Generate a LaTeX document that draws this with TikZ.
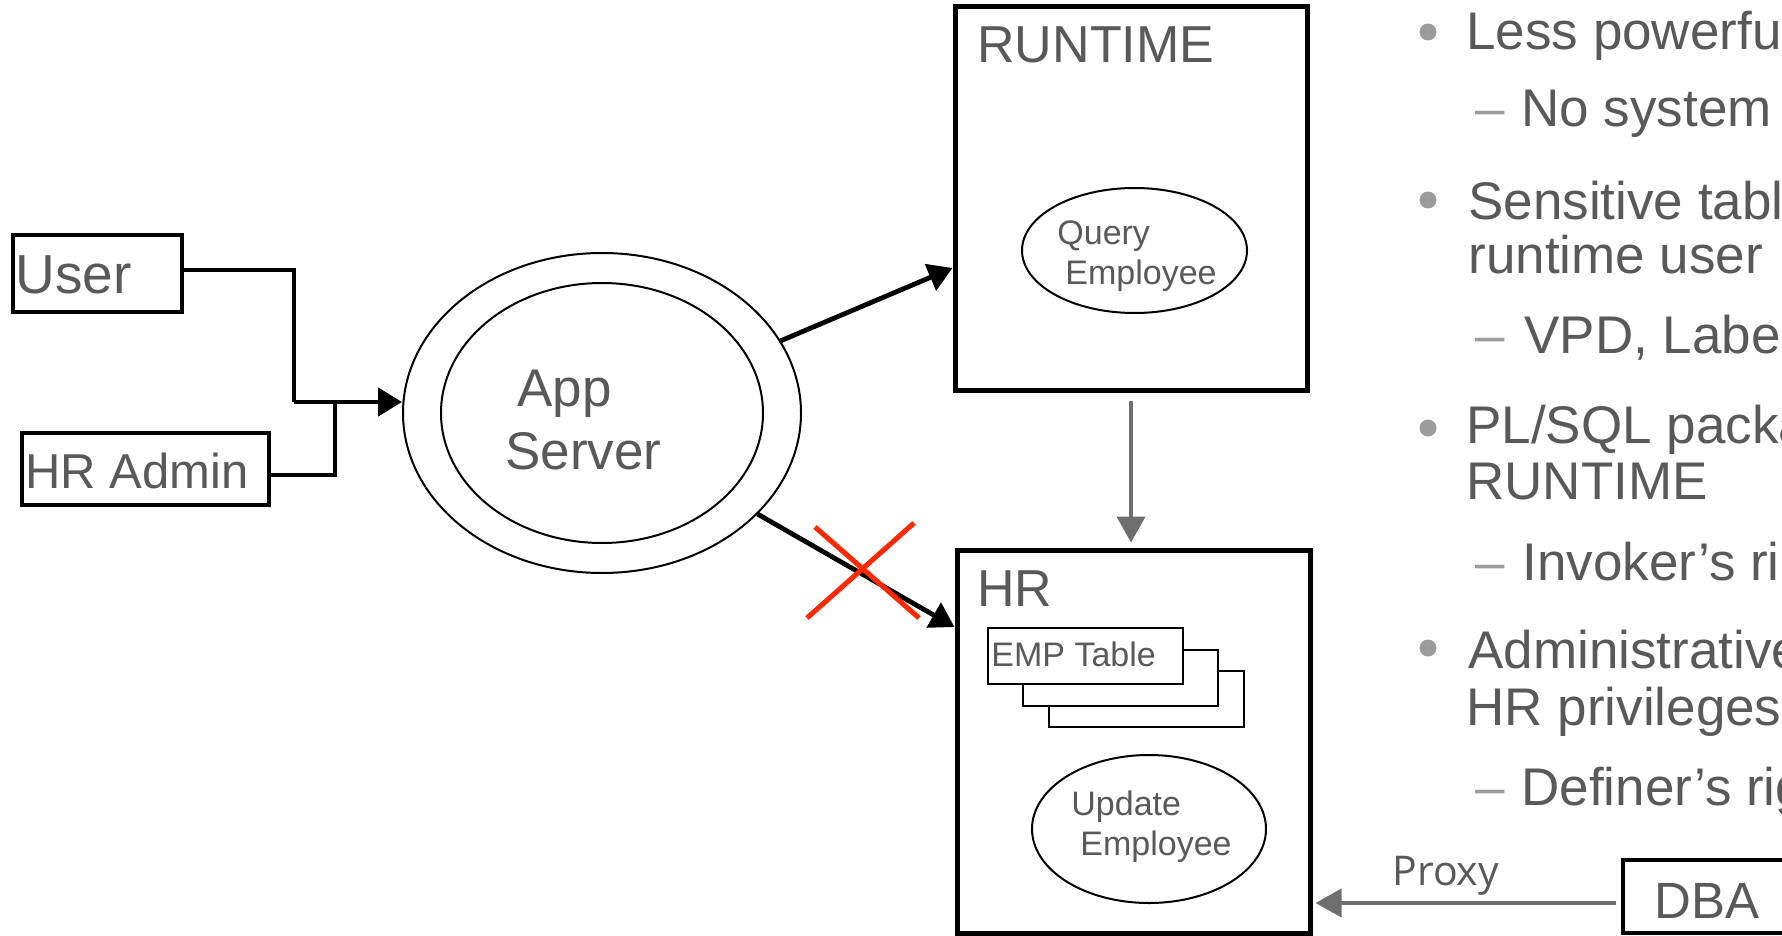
\documentclass[tikz,border=0pt]{standalone}
\usepackage{fontspec}
\setmainfont{Liberation Sans}
\newfontfamily\opensans{Open Sans}
\usetikzlibrary{arrows.meta,shapes.geometric}
\definecolor{textgray}{HTML}{595959}
\definecolor{bulletgray}{HTML}{9C9C9C}
\definecolor{arrowgray}{HTML}{6E6E6E}
\definecolor{xred}{RGB}{255,40,0}
\tikzset{
  box/.style={draw, line width=2.25pt, inner sep=0pt, fill=white},
  txt/.style={text=textgray, inner sep=0pt, anchor=base west},
  ell/.style={draw, ellipse, line width=1pt, inner sep=0pt},
  tbl/.style={draw, line width=1pt, fill=white, inner sep=0pt, minimum width=97.5pt, minimum height=28pt},
  conn/.style={line width=2.4pt, -{Triangle[length=12pt,width=14pt]}},
  gconn/.style={draw=arrowgray, line width=2pt, -{Triangle[length=13pt,width=14pt]}, arrowgray},
  big/.style={font=\fontsize{26.5pt}{30pt}\selectfont},
  small/.style={font=\fontsize{17pt}{20pt}\selectfont},
  dashmark/.style={text=bulletgray, inner sep=0pt, anchor=base west, big}
}
\begin{document}
\begin{tikzpicture}[x=0.5pt, y=-0.5pt]
\useasboundingbox (0,0) rectangle (1782,936);
\fill[white] (0,0) rectangle (1782,936);
\clip (0,0) rectangle (1782,936);

% left boxes
\node[box, minimum width=84.5pt, minimum height=38.5pt] (user) at (97.5,273.5) {};
\node[txt, font=\fontsize{27.5pt}{30pt}\selectfont] (usertxt) at (15,293) {User};
\node[box, minimum width=123.5pt, minimum height=36pt] (hradmin) at (145.5,469) {};
\node[txt, font=\fontsize{24.5pt}{28pt}\selectfont] (hradmintxt) at (25,488) {HR Admin};

% app server
\node[ell, minimum width=199pt, minimum height=160pt] (appout) at (602,413) {};
\node[ell, minimum width=161pt, minimum height=130pt] (appin) at (602,413) {};
\node[txt, font=\fontsize{26.5pt}{30pt}\selectfont] (apptxt) at (517,406) {App};
\node[txt, font=\fontsize{26.5pt}{30pt}\selectfont] (servertxt) at (505,469) {Server};

% runtime
\node[box, line width=2.5pt, minimum width=176pt, minimum height=191.5pt] (runtime) at (1131,198.5) {};
\node[txt, font=\fontsize{26pt}{30pt}\selectfont] (runtimetxt) at (977,63) {RUNTIME};
\node[ell, minimum width=112.5pt, minimum height=62.5pt] (query) at (1134.5,250.5) {};
\node[txt, small] (q1) at (1057,245) {Query};
\node[txt, small] (q2) at (1065,285) {Employee};

% hr
\node[box, line width=2.5pt, minimum width=176.5pt, minimum height=191.5pt] (hr) at (1133.5,741.5) {};
\node[txt, font=\fontsize{26pt}{30pt}\selectfont] (hrtxt) at (977,606) {HR};
\node[tbl] (emp3) at (1146.5,699) {};
\node[tbl] (emp2) at (1120.5,677.5) {};
\node[tbl] (emp1) at (1085.5,656) {};
\node[txt, small] (emptxt) at (991,666) {EMP Table};
\node[ell, minimum width=117pt, minimum height=74pt] (update) at (1149,829) {};
\node[txt, small] (u1) at (1071,815) {Update};
\node[txt, small] (u2) at (1080,855) {Employee};

% dba
\node[box, minimum width=103.5pt, minimum height=36.5pt] (dba) at (1726.5,896.5) {};
\node[txt, font=\fontsize{25.5pt}{30pt}\selectfont] (dbatxt) at (1654,918) {DBA};

% connectors
\coordinate (j1) at (294,402);
\coordinate (j2) at (335,402);
\draw[line width=2.4pt] ([yshift=1.75pt]user.east) -| (j1);
\draw[line width=2.4pt] ([yshift=-3pt]hradmin.east) -| (j2);
\draw[conn] (j1) -- (j1 -| appout.west);
\draw[conn] (appout.22) -- ([yshift=-34.75pt]runtime.west);
\draw[conn] (appout.-33) -- ([yshift=57.25pt]hr.west);
\draw[gconn, shorten <=4pt, shorten >=2.5pt] (runtime.south) -- (runtime.south |- hr.north);
\coordinate (ps) at ([xshift=-2.5pt,yshift=-3.25pt]dba.west);
\draw[gconn, shorten >=1.5pt] (ps) -- (ps -| hr.east);
\node[txt, text=textgray, font=\opensans\fontsize{20.5pt}{24pt}\selectfont] (proxy) at (1392,885) {Proxy};

% red cross
\draw[xred, line width=2.5pt] (815,527) -- (919,618);
\draw[xred, line width=2.5pt] (914,523) -- (807,618);

% bullet text
\foreach \y in {32,200,428,648} \fill[bulletgray] (1428,\y) circle (4.25pt);
\node[txt, big] (b1) at (1466,50) {Less powerfu};
\node[dashmark] (d1) at (1475,127) {–};
\node[txt, big] (s1) at (1521,127) {No system};
\node[txt, big] (b2a) at (1468,220) {Sensitive tabl};
\node[txt, big] (b2b) at (1468,273) {runtime user};
\node[dashmark] (d2) at (1475,353) {–};
\node[txt, big] (s2) at (1524,353) {VPD, Labe};
\node[txt, big] (b3a) at (1466,443) {PL/SQL packa};
\node[txt, big] (b3b) at (1466,499) {RUNTIME};
\node[dashmark] (d3) at (1475,580) {–};
\node[txt, big] (s3) at (1522,580) {Invoker’s ri};
\node[txt, big] (b4a) at (1468,668) {Administrative};
\node[txt, big] (b4b) at (1466,725) {HR privileges};
\node[dashmark] (d4) at (1475,805) {–};
\node[txt, big] (s4) at (1521,805) {Definer’s rig};
\end{tikzpicture}
\end{document}
